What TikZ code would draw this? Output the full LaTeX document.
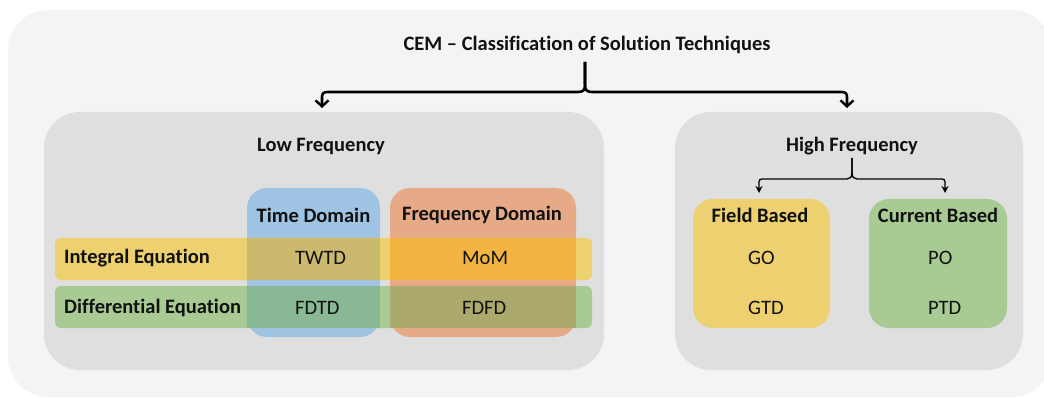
\documentclass[tikz,border=0pt]{standalone}
\usepackage{fontspec}
\setmainfont{Carlito}[Ligatures=NoCommon]
\usetikzlibrary{arrows.meta}
\definecolor{bgout}{HTML}{F4F4F4}
\definecolor{gray1}{HTML}{DFDFDF}
\definecolor{colblue}{HTML}{9FC3E2}
\definecolor{colorange}{HTML}{E7AA86}
\definecolor{baryellow}{HTML}{EDD06F}
\definecolor{bargreen}{HTML}{A7CB92}
\definecolor{ovtwtd}{HTML}{CBBA6E}
\definecolor{ovmom}{HTML}{F1B440}
\definecolor{ovfdtd}{HTML}{88B894}
\definecolor{ovfdfd}{HTML}{ABA96B}
\definecolor{txt}{HTML}{111111}
\begin{document}
\begin{tikzpicture}[x=1pt,y=-1pt,
  font=\fontsize{20.5}{24}\selectfont, text=txt,
  gbox/.style={fill=gray1, rounded corners=36pt, inner sep=0pt},
  colbox/.style={rounded corners=20pt, inner sep=0pt},
  barbox/.style={rounded corners=6pt, inner sep=0pt, minimum height=42pt},
  ovbox/.style={inner sep=0pt, minimum height=42pt},
  hbox/.style={rounded corners=20pt, inner sep=0pt, minimum width=137pt, minimum height=129pt},
  bl/.style={font=\fontsize{20.5}{24}\selectfont\bfseries, inner sep=0pt},
  nl/.style={inner sep=0pt, anchor=west},
  mainline/.style={line width=2.6pt, draw=black, -{Straight Barb[length=6pt,width=13pt,line width=2.4pt]}},
  subline/.style={line width=1.4pt, draw=black, -{Stealth[length=7pt,width=7pt]}}
]
\useasboundingbox (0,0) rectangle (1044,398);
\fill[bgout, rounded corners=40pt] (8,10) rectangle (1052,397);

% main boxes
\node[gbox, minimum width=560pt, minimum height=258pt] (lf) at (324,241) {};
\node[gbox, minimum width=348pt, minimum height=258pt] (hf) at (849,241) {};

% title and main brace
\node[bl] (title) at (587,45) {CEM – Classification of Solution Techniques};
\coordinate (mtop) at (585,62);
\coordinate (mleft) at (322,108);
\coordinate (mright) at (847,108);
\draw[mainline] (mtop) -- (585,85) .. controls (585,90) and (583,92) .. (578,92)
   -- (328,92) .. controls (324,92) and (322,93) .. (322,97) -- (mleft);
\draw[mainline] (mtop) -- (585,85) .. controls (585,90) and (587,92) .. (592,92)
   -- (841,92) .. controls (845,92) and (847,93) .. (847,97) -- (mright);

% low frequency
\node[bl] (lft) at (321,146) {Low Frequency};
\node[colbox, fill=colblue, minimum width=133pt, minimum height=149pt] (td) at (313.5,262.5) {};
\node[colbox, fill=colorange, minimum width=186pt, minimum height=149pt] (fd) at (483,262.5) {};
\node[barbox, fill=baryellow, minimum width=537pt] (ie) at (323.5,259) {};
\node[barbox, fill=bargreen, minimum width=537pt] (de) at (323.5,307) {};
\node[ovbox, fill=ovtwtd, minimum width=133pt] (o1) at (313.5,259) {};
\node[ovbox, fill=ovmom, minimum width=186pt] (o2) at (483,259) {};
\node[ovbox, fill=ovfdtd, minimum width=133pt] (o3) at (313.5,307) {};
\node[ovbox, fill=ovfdfd, minimum width=186pt] (o4) at (483,307) {};
\node[bl] (tdt) at (313.5,215) {Time Domain};
\node[bl] (fdt) at (482,215) {Frequency Domain};
\node[bl, anchor=west] (iet) at (64,258) {Integral Equation};
\node[bl, anchor=west] (det) at (64,308) {Differential Equation};
\node[nl] (twtd) at (295,258) {TWTD};
\node[nl] (mom) at (462,258) {MoM};
\node[nl] (fdtd) at (295,308) {FDTD};
\node[nl] (fdfd) at (462,308) {FDFD};

% high frequency
\node[bl] (hft) at (852,146) {High Frequency};
\node[hbox, fill=baryellow] (fb) at (761.5,263.5) {};
\node[hbox, fill=bargreen, minimum width=138pt] (cb) at (938,263.5) {};
\coordinate (stop) at (852,158);
\coordinate (sleft) at (759,193);
\coordinate (sright) at (945,193);
\draw[subline] (stop) -- (852,173) .. controls (852,177) and (850,179) .. (847,179)
   -- (762,179) .. controls (760,179) and (759,180) .. (759,182) -- (sleft);
\draw[subline] (stop) -- (852,173) .. controls (852,177) and (854,179) .. (857,179)
   -- (942,179) .. controls (944,179) and (945,180) .. (945,182) -- (sright);
\node[bl] (fbt) at (760,215) {Field Based};
\node[bl] (cbt) at (938,215) {Current Based};
\node[nl] (go) at (748,258) {GO};
\node[nl] (gtd) at (748,308) {GTD};
\node[nl] (po) at (928,258) {PO};
\node[nl] (ptd) at (928,308) {PTD};
\end{tikzpicture}
\end{document}
